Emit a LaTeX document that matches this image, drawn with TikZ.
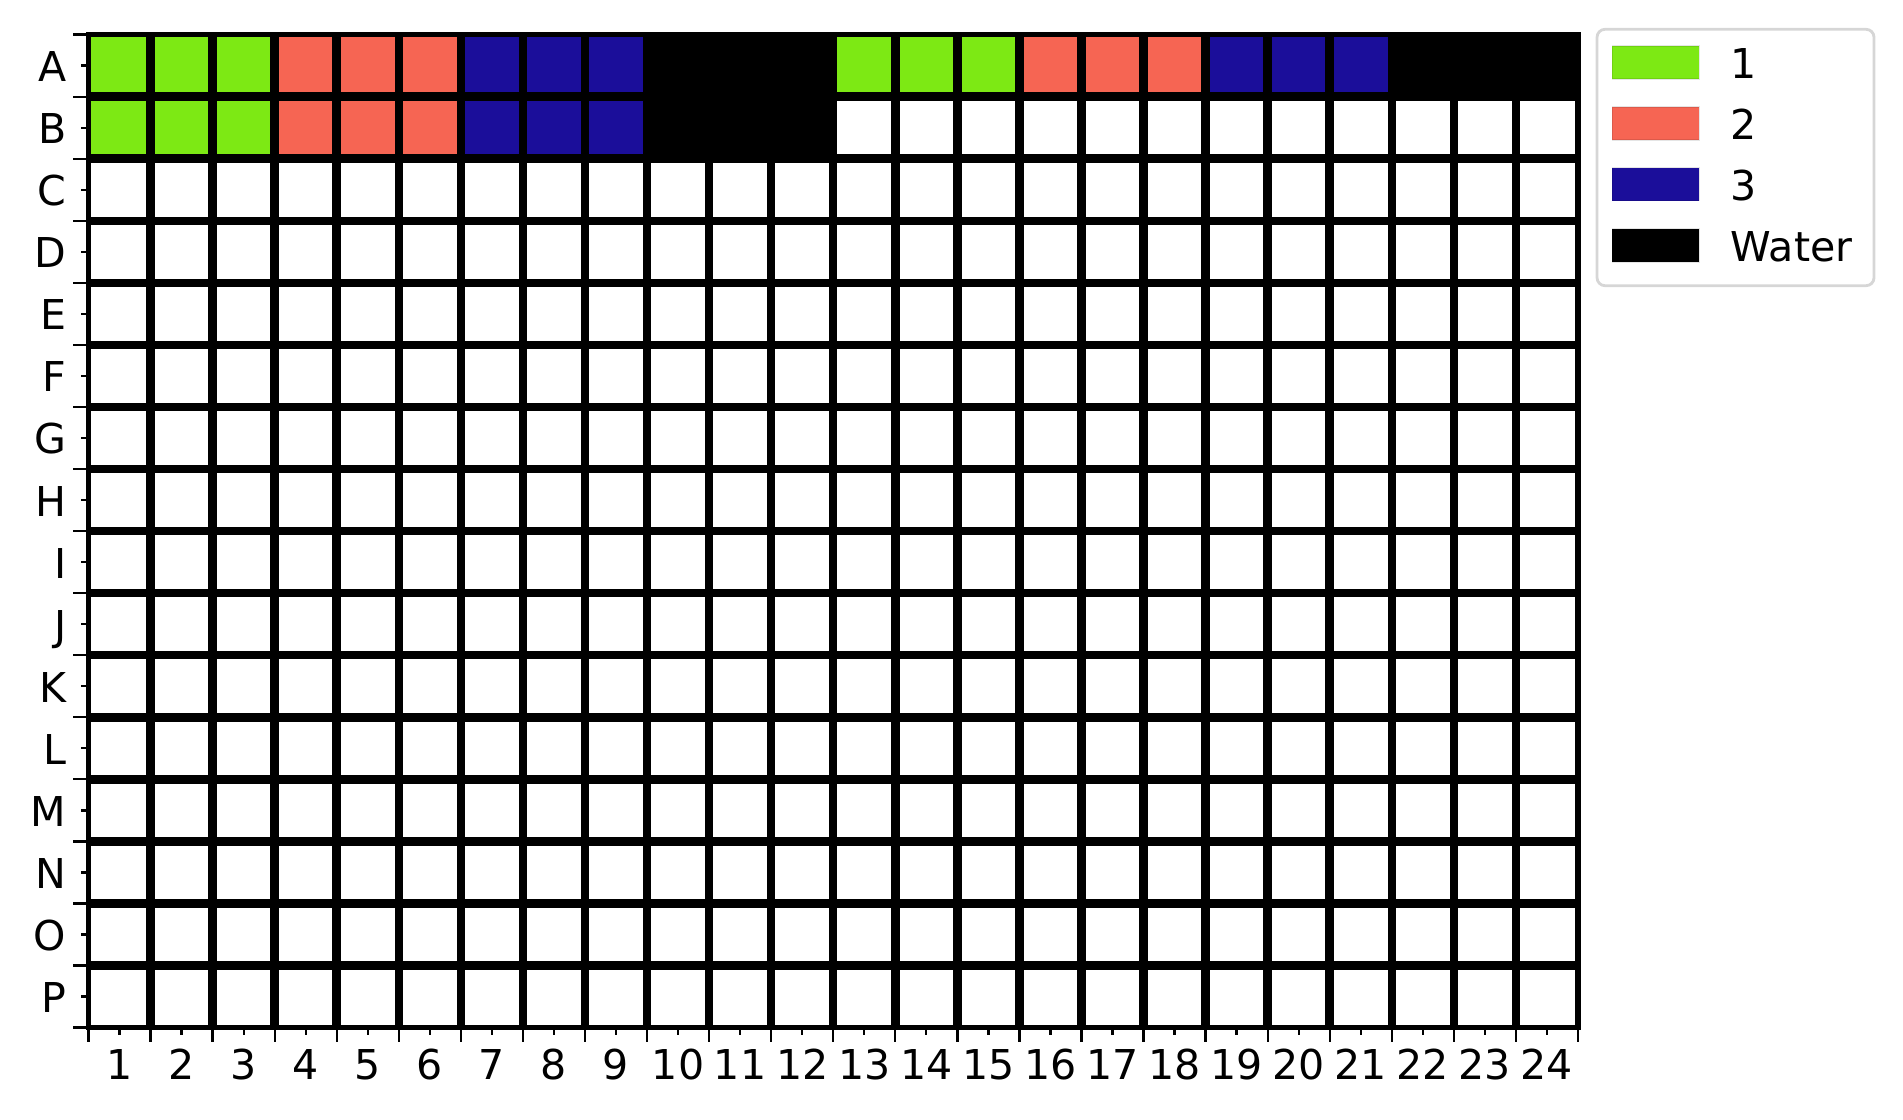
\documentclass[tikz,border=0pt]{standalone}
\usepackage{fontspec}
\setmainfont{DejaVu Sans}
\definecolor{cGreen}{HTML}{7DE914}
\definecolor{cRed}{HTML}{F66553}
\definecolor{cBlue}{HTML}{1B0E9A}
\begin{document}
\begin{tikzpicture}[x=1cm,y=1cm,font=\fontsize{11.7}{14}\selectfont,
  cell/.style={draw=black,draw opacity=.18,line width=.3pt},
  wall/.style={line width=.085cm},
  tick/.style={line width=.65pt},
  swatch/.style={draw=black,draw opacity=.1,line width=.3pt}]
\path[use as bounding box] (0,0) rectangle (19.03,11.19);
\def\cw{.6206}
\begin{scope}[shift={(.885,.9144)}]
% wells, row A on top
\foreach \col in {0,...,23}{\foreach \row in {0,...,15}{
  \pgfmathtruncatemacro{\grp}{int(mod(\col,12)/3)}
  \pgfmathtruncatemacro{\used}{(\row==0)||(\row==1&&\col<12)}
  \def\shade{white}
  \ifnum\used=1
    \ifcase\grp \def\shade{cGreen}\or \def\shade{cRed}\or \def\shade{cBlue}\or \def\shade{black}\fi
  \fi
  \draw[cell,fill=\shade] ({\cw*\col},{\cw*(15-\row)}) rectangle ++(\cw,\cw);
}}
\foreach \i in {1,...,23} \draw[wall] ({\cw*\i},0) -- ({\cw*\i},{16*\cw});
\foreach \j in {1,...,15} \draw[wall] (0,{\cw*\j}) -- ({24*\cw},{\cw*\j});
\draw[line width=.055cm] (0,0) rectangle ({24*\cw},{16*\cw});
% ticks
\foreach \j in {0,...,16} \draw[tick] (0,{\cw*\j}) -- ++(-.155,0);
\foreach \j in {0,...,15} \draw[tick] (0,{\cw*(\j+.5)}) -- ++(-.075,0);
\foreach \i in {0,...,24} \draw[tick] ({\cw*\i},0) -- ++(0,-.14);
\foreach \i in {0,...,23} \draw[tick] ({\cw*(\i+.5)},0) -- ++(0,-.07);
\foreach \lbl [count=\r from 0] in {A,B,C,D,E,F,G,H,I,J,K,L,M,N,O,P}
  \node[anchor=base east,inner sep=0] (row\lbl) at (-.215,{\cw*(15.5-\r)-.16}) {\lbl};
\foreach \n in {1,...,24}
  \node[anchor=base,inner sep=0] (col\n) at ({\cw*(\n-.5)},-.524) {\n};
\end{scope}
% legend
\draw[draw=black!16,line width=.8pt,rounded corners=.8mm,fill=white] (15.97,8.333) rectangle (18.74,10.897);
\foreach \y/\shade/\key in {10.565/cGreen/1,9.955/cRed/2,9.347/cBlue/3,8.735/black/Water}{
  \draw[swatch,fill=\shade] (16.12,\y-.165) rectangle ++(.87,.33);
  \node[anchor=base west,inner sep=0] (key\key) at (17.30,\y-.158) {\key};
}
\end{tikzpicture}
\end{document}
